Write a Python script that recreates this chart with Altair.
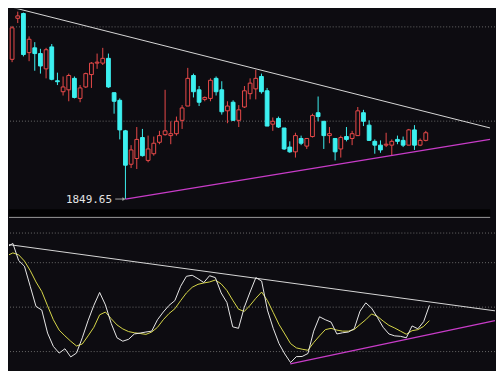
import altair as alt
import pandas as pd

BG = "#0d0c11"
RED = "#e84a4a"
CYAN = "#3cf0f0"
WHITE_LINE = "#d8d8d8"
MAGENTA = "#c83cc8"
GRID = "#6a6a6a"

# weekly candles, index -1 .. 72
idx = list(range(-1, 73))
open_ = [2298.8, 2430.6, 2446.0, 2320.3, 2335.6, 2317.2, 2268.1, 2338.7, 2229.8, 2194.6,
         2200.7, 2237.5, 2173.1, 2209.9, 2249.7, 2286.5, 2286.5, 2301.9, 2191.5, 2167.0,
         2068.9, 1961.5, 1980.0, 2047.4, 1973.8, 1995.3, 2032.1, 2056.6, 2053.5, 2059.7,
         2102.6, 2148.6, 2246.7, 2200.7, 2170.0, 2173.1, 2237.5, 2200.7, 2133.2, 2160.8,
         2102.6, 2145.5, 2188.4, 2203.8, 2243.6, 2197.6, 2090.3, 2108.7, 2078.0, 2016.7,
         2001.4, 2044.3, 2019.8, 2050.5, 2127.1, 2099.5, 2053.5, 2044.3, 2010.6, 2050.5,
         2044.3, 2053.5, 2127.1, 2087.2, 2035.1, 2022.9, 2022.9, 2022.9, 2041.3, 2038.2,
         2022.9, 2071.9, 2022.9, 2038.2]
close = [2400.0, 2438.3, 2314.1, 2363.2, 2317.2, 2277.3, 2329.5, 2234.4, 2226.7, 2209.9,
         2246.7, 2176.2, 2206.8, 2252.8, 2286.5, 2289.6, 2301.9, 2209.9, 2163.9, 2071.9,
         1958.5, 2007.5, 2041.3, 1989.1, 2010.6, 2029.0, 2053.5, 2068.9, 2059.7, 2099.5,
         2142.4, 2237.5, 2194.6, 2160.8, 2176.2, 2231.3, 2194.6, 2130.2, 2148.6, 2102.6,
         2136.3, 2197.6, 2222.2, 2237.5, 2194.6, 2084.2, 2099.5, 2081.1, 2010.6, 2001.4,
         2053.5, 2029.0, 2044.3, 2117.9, 2114.8, 2053.5, 2059.7, 2001.4, 2047.4, 2041.3,
         2059.7, 2133.2, 2099.5, 2038.2, 2022.9, 2007.5, 2025.9, 2035.1, 2035.1, 2022.9,
         2071.9, 2022.9, 2038.2, 2062.7]
high = [2406.1, 2452.1, 2449.0, 2372.4, 2354.0, 2332.5, 2335.6, 2347.9, 2255.9, 2243.6,
        2252.8, 2243.6, 2216.0, 2255.9, 2289.6, 2317.2, 2335.6, 2317.2, 2191.5, 2173.1,
        2071.9, 2022.9, 2081.1, 2075.0, 2053.5, 2050.5, 2068.9, 2200.7, 2099.5, 2114.8,
        2151.6, 2271.2, 2252.8, 2212.9, 2179.2, 2237.5, 2243.6, 2228.3, 2163.9, 2167.0,
        2151.6, 2212.9, 2237.5, 2265.1, 2252.8, 2206.8, 2111.8, 2114.8, 2078.0, 2035.1,
        2062.7, 2053.5, 2044.3, 2124.0, 2179.2, 2099.5, 2081.1, 2044.3, 2053.5, 2081.1,
        2068.9, 2145.5, 2136.3, 2102.6, 2041.3, 2038.2, 2062.7, 2041.3, 2053.5, 2050.5,
        2075.0, 2087.2, 2044.3, 2068.9]
low = [2289.6, 2415.3, 2308.0, 2292.7, 2262.0, 2252.8, 2237.5, 2231.3, 2216.0, 2182.3,
       2163.9, 2173.1, 2160.8, 2206.8, 2206.8, 2268.1, 2280.4, 2206.8, 2124.0, 2041.3,
       1849.65, 1949.3, 1946.2, 1986.1, 1967.7, 1989.1, 2025.9, 2053.5, 2025.9, 2053.5,
       2075.0, 2148.6, 2176.2, 2148.6, 2163.9, 2163.9, 2182.3, 2121.0, 2093.4, 2102.6,
       2081.1, 2142.4, 2170.0, 2170.0, 2188.4, 2084.2, 2068.9, 2078.0, 2007.5, 1998.3,
       1983.0, 2022.9, 2010.6, 2047.4, 2099.5, 2010.6, 2029.0, 1973.8, 1983.0, 2035.1,
       2022.9, 2053.5, 2084.2, 2038.2, 1995.3, 1998.3, 2016.7, 1989.1, 2025.9, 2016.7,
       2022.9, 2007.5, 2019.8, 2035.1]

# KDJ oscillator (K white, D yellow)
k_vals = [90.5, 93.0, 81.5, 77.6, 64.1, 50.5, 48.0, 32.5, 23.5, 19.0, 21.9, 16.4, 19.0,
          29.3, 40.9, 51.2, 59.9, 51.5, 39.0, 29.3, 27.0, 28.3, 31.9, 32.5, 33.2, 33.8,
          41.5, 46.7, 51.2, 54.4, 64.1, 70.8, 71.5, 69.2, 66.6, 71.2, 69.9, 59.6, 53.1,
          36.7, 35.7, 49.9, 60.2, 69.9, 67.6, 48.0, 35.7, 25.4, 18.4, 12.6, 16.6, 16.7,
          18.7, 33.8, 43.5, 41.5, 39.9, 31.9, 32.7, 33.2, 35.4, 47.3, 52.9, 49.3, 43.1,
          36.4, 31.9, 30.6, 30.3, 29.3, 37.3, 35.4, 40.2, 51.2]
d_vals = [84.7, 86.6, 85.3, 81.1, 74.7, 67.0, 60.5, 50.9, 41.5, 34.5, 30.6, 27.0, 23.8,
          25.1, 30.6, 36.4, 44.8, 46.7, 42.2, 38.0, 35.3, 33.5, 32.7, 32.2, 31.6, 33.2,
          36.4, 41.5, 45.7, 48.9, 54.4, 59.6, 63.4, 65.4, 66.3, 67.0, 68.3, 65.7, 61.2,
          54.7, 48.6, 47.1, 51.2, 56.0, 60.2, 54.4, 46.4, 38.3, 31.9, 25.4, 22.5, 21.6,
          20.9, 26.1, 30.6, 34.8, 35.7, 34.5, 33.8, 33.8, 34.9, 38.3, 41.5, 45.4, 43.8,
          40.6, 37.7, 35.9, 33.8, 31.7, 34.1, 34.8, 37.0, 40.9]

# trend lines (index, value)
upper_res_i = [-0.667, 83.333]
upper_res_p = [2464.4, 2078.1]
upper_sup_i = [19, 83.333]
upper_sup_p = [1849.65, 2041.3]
lower_res_i = [-0.667, 83.333]
lower_res_v = [92.2, 47.5]
lower_sup_i = [47.95, 83.333]
lower_sup_v = [11.7, 40.9]

grid_upper = [2403, 2100]
grid_lower = [100, 80, 50, 20]

low_label = "1849.65"
low_i = 19
low_p = 1849.65

W, H1, H2 = 488, 209, 154
x_scale = alt.Scale(domain=[-0.667, 83.333], nice=False, zero=False)
p_scale = alt.Scale(domain=[1792.3, 2461.3], nice=False, zero=False)
v_scale = alt.Scale(domain=[7.4, 110.9], nice=False, zero=False)

df = pd.DataFrame({"i": idx, "open": open_, "close": close, "high": high, "low": low})
X = alt.X("i:Q", scale=x_scale, axis=None)

base = alt.Chart(df)
up = "datum.close >= datum.open"
down = "datum.close < datum.open"

wick_up = base.transform_filter(up).mark_rule(color=RED, strokeWidth=1, clip=True).encode(
    x=X, y=alt.Y("low:Q", scale=p_scale, axis=None), y2="high:Q")
wick_dn = base.transform_filter(down).mark_rule(color=CYAN, strokeWidth=1, clip=True).encode(
    x=X, y=alt.Y("low:Q", scale=p_scale, axis=None), y2="high:Q")
body_up = base.transform_filter(up).mark_bar(fill=BG, stroke=RED, strokeWidth=1, size=3.8, clip=True).encode(
    x=X, y=alt.Y("open:Q", scale=p_scale, axis=None), y2="close:Q")
body_dn = base.transform_filter(down).mark_bar(fill=CYAN, stroke=CYAN, strokeWidth=1, size=3.8, clip=True).encode(
    x=X, y=alt.Y("open:Q", scale=p_scale, axis=None), y2="close:Q")

gu = alt.Chart(pd.DataFrame({"p": grid_upper})).mark_rule(
    color=GRID, strokeDash=[1, 2], strokeWidth=1).encode(y=alt.Y("p:Q", scale=p_scale, axis=None))

res_u = alt.Chart(pd.DataFrame({"i": upper_res_i, "p": upper_res_p})).mark_line(
    color=WHITE_LINE, strokeWidth=1, clip=True).encode(x=X, y=alt.Y("p:Q", scale=p_scale, axis=None))
sup_u = alt.Chart(pd.DataFrame({"i": upper_sup_i, "p": upper_sup_p})).mark_line(
    color=MAGENTA, strokeWidth=1.2, clip=True).encode(x=X, y=alt.Y("p:Q", scale=p_scale, axis=None))

lab_df = pd.DataFrame({"i": [low_i], "p": [low_p], "t": [low_label], "a0": [low_i - 1.8], "a1": [low_i - 0.25]})
lab = alt.Chart(lab_df).mark_text(align="right", baseline="middle", dx=-13.5, dy=1,
                                   font="DejaVu Sans Mono", fontSize=11, color="#e4e4e4").encode(
    x=X, y=alt.Y("p:Q", scale=p_scale, axis=None), text="t:N")
arrow = alt.Chart(lab_df).mark_rule(color="#a0a0a0", strokeWidth=1).encode(
    x=alt.X("a0:Q", scale=x_scale, axis=None), x2="a1:Q", y=alt.Y("p:Q", scale=p_scale, axis=None))
head = alt.Chart(lab_df).mark_point(shape="triangle-right", filled=True, size=14, color="#a0a0a0", opacity=1).encode(
    x=alt.X("a1:Q", scale=x_scale, axis=None), y=alt.Y("p:Q", scale=p_scale, axis=None))

strip = alt.Chart(pd.DataFrame({"z": [0]})).mark_rect(color="#020203").encode(
    x=alt.value(0), x2=alt.value(W * 499 / 504), y=alt.value(H1 - 7.7), y2=alt.value(H1))

upper = alt.layer(strip, gu, wick_up, wick_dn, body_up, body_dn, res_u, sup_u, arrow, head, lab).properties(
    width=W, height=H1)

kdf = pd.DataFrame({"i": idx, "k": k_vals, "d": d_vals})
gl = alt.Chart(pd.DataFrame({"v": grid_lower})).mark_rule(
    color=GRID, strokeDash=[1, 2], strokeWidth=1).encode(y=alt.Y("v:Q", scale=v_scale, axis=None))
sep = alt.Chart(pd.DataFrame({"z": [0]})).mark_rule(color="#9a9a9a", strokeWidth=1).encode(
    x=alt.value(0), x2=alt.value(W * 499 / 504), y=alt.value(0.5))
kline = alt.Chart(kdf).mark_line(color="#e8e8e8", strokeWidth=1, clip=True).encode(
    x=X, y=alt.Y("k:Q", scale=v_scale, axis=None))
dline = alt.Chart(kdf).mark_line(color="#d8d84a", strokeWidth=1, clip=True).encode(
    x=X, y=alt.Y("d:Q", scale=v_scale, axis=None))
res_l = alt.Chart(pd.DataFrame({"i": lower_res_i, "v": lower_res_v})).mark_line(
    color=WHITE_LINE, strokeWidth=1, clip=True).encode(x=X, y=alt.Y("v:Q", scale=v_scale, axis=None))
sup_l = alt.Chart(pd.DataFrame({"i": lower_sup_i, "v": lower_sup_v})).mark_line(
    color=MAGENTA, strokeWidth=1.2, clip=True).encode(x=X, y=alt.Y("v:Q", scale=v_scale, axis=None))

lower = alt.layer(gl, sep, res_l, sup_l, dline, kline).properties(width=W, height=H2)

chart = alt.vconcat(upper, lower, spacing=0).properties(
    padding=0, background=BG
).configure_view(stroke=None, fill=BG)

chart.save("out.html", embed_options={"renderer": "svg", "actions": False})
